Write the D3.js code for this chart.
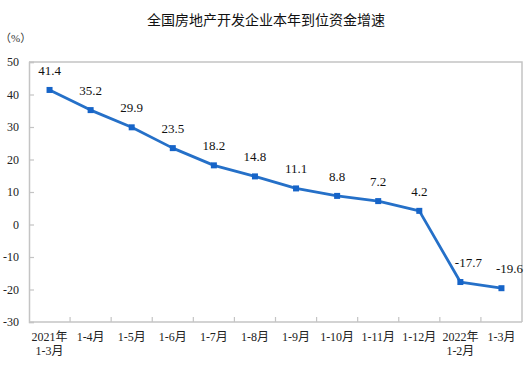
<!DOCTYPE html>
<meta charset="utf-8">
<html>
<head>
<script src="https://d3js.org/d3.v7.min.js"></script>
<style>
  body { margin: 0; background: #fff; }
</style>
</head>
<body>
<svg id="chart" width="531" height="372"></svg>
</body>
</html>
<script>

// data
var categories = ["2021年\n1-3月", "1-4月", "1-5月", "1-6月", "1-7月", "1-8月", "1-9月",
  "1-10月", "1-11月", "1-12月", "2022年\n1-2月", "1-3月"];
var growth = [41.4, 35.2, 29.9, 23.5, 18.2, 14.8, 11.1, 8.8, 7.2, 4.2, -17.7, -19.6];
var yTicks = [-30, -20, -10, 0, 10, 20, 30, 40, 50];

var svg = d3.select("#chart"),
  width = +svg.attr("width"),
  height = +svg.attr("height");

var margin = {top: 62, right: 9, bottom: 50, left: 29};
var serif = "'Liberation Serif', 'Times New Roman', 'Noto Sans CJK SC', serif";

// plain hyphen for negatives, like the original
function fmt(f) {
  return function(d) { return f(d).replace("\u2212", "-"); };
}

var x = d3.scaleBand()
  .domain(d3.range(categories.length))
  .range([margin.left, width - margin.right]);

var y = d3.scaleLinear()
  .domain([-30, 50])
  .range([height - margin.bottom, margin.top]);

// title
svg.append("text")
  .attr("x", 266)
  .attr("y", 25)
  .attr("text-anchor", "middle")
  .style("font-family", "'Noto Sans CJK SC', sans-serif")
  .style("font-size", "14px")
  .attr("fill", "#111")
  .text("全国房地产开发企业本年到位资金增速");

// unit
svg.append("text")
  .attr("x", 0)
  .attr("y", 42)
  .style("font-family", serif)
  .style("font-size", "11px")
  .attr("fill", "#333")
  .text("（%）");

// frame: top and right border
svg.append("path")
  .attr("d", "M" + margin.left + "," + y(50) + "H" + (width - margin.right) + "V" + y(-30))
  .attr("fill", "none")
  .attr("stroke", "#c4c4c4")
  .attr("stroke-width", 1.5);

// y axis
var yAxis = svg.append("g")
  .attr("transform", "translate(" + margin.left + ",0)")
  .call(d3.axisRight(y).tickValues(yTicks).tickSize(5).tickFormat(fmt(d3.format("d"))));
yAxis.select(".domain").attr("stroke", "#c4c4c4").attr("stroke-width", 1.5);
yAxis.selectAll(".tick line").attr("stroke", "#c4c4c4").attr("stroke-width", 1.2);
yAxis.selectAll(".tick text")
  .attr("x", -10)
  .attr("text-anchor", "end")
  .style("font-family", serif)
  .style("font-size", "12px")
  .attr("fill", "#222");

// x axis
var xTicks = d3.range(categories.length + 1).map(function(i) {
  return margin.left + i * x.step();
});
var xAxis = svg.append("g");
xAxis.append("line")
  .attr("x1", margin.left).attr("x2", width - margin.right)
  .attr("y1", y(-30)).attr("y2", y(-30))
  .attr("stroke", "#c4c4c4").attr("stroke-width", 1.5);
xAxis.selectAll(".xt")
  .data(xTicks.slice(1, -1))
  .enter().append("line")
    .attr("x1", function(d) { return d; })
    .attr("x2", function(d) { return d; })
    .attr("y1", y(-30))
    .attr("y2", y(-30) - 5)
    .attr("stroke", "#c4c4c4")
    .attr("stroke-width", 1.2);

var xLabels = xAxis.selectAll(".xl")
  .data(categories)
  .enter().append("text")
    .attr("text-anchor", "middle")
    .attr("transform", function(d, i) {
      return "translate(" + (x(i) + x.bandwidth() / 2) + "," + (y(-30) + 19) + ")";
    })
    .style("font-family", serif)
    .style("font-size", "12px")
    .attr("fill", "#222");
xLabels.selectAll("tspan")
  .data(function(d) { return d.split("\n"); })
  .enter().append("tspan")
    .attr("x", 0)
    .attr("dy", function(d, i) { return i ? 14 : 0; })
    .text(function(d) { return d; });

// line
var line = d3.line()
  .x(function(d, i) { return x(i) + x.bandwidth() / 2; })
  .y(function(d) { return y(d); });

svg.append("path")
  .datum(growth)
  .attr("d", line)
  .attr("fill", "none")
  .attr("stroke", "#2570c8")
  .attr("stroke-width", 2.8)
  .attr("stroke-linejoin", "round");

// markers
svg.selectAll(".mk")
  .data(growth)
  .enter().append("rect")
    .attr("x", function(d, i) { return x(i) + x.bandwidth() / 2 - 3; })
    .attr("y", function(d) { return y(d) - 3; })
    .attr("width", 6)
    .attr("height", 6)
    .attr("fill", "#1664c8");

// value labels
svg.selectAll(".lb")
  .data(growth)
  .enter().append("text")
    .attr("x", function(d, i) { return x(i) + x.bandwidth() / 2 + (d < 0 ? 8 : 0); })
    .attr("y", function(d) { return y(d) - 15; })
    .attr("text-anchor", "middle")
    .style("font-family", serif)
    .style("font-size", "13px")
    .attr("fill", "#111")
    .text(fmt(d3.format(".1f")));

</script>
